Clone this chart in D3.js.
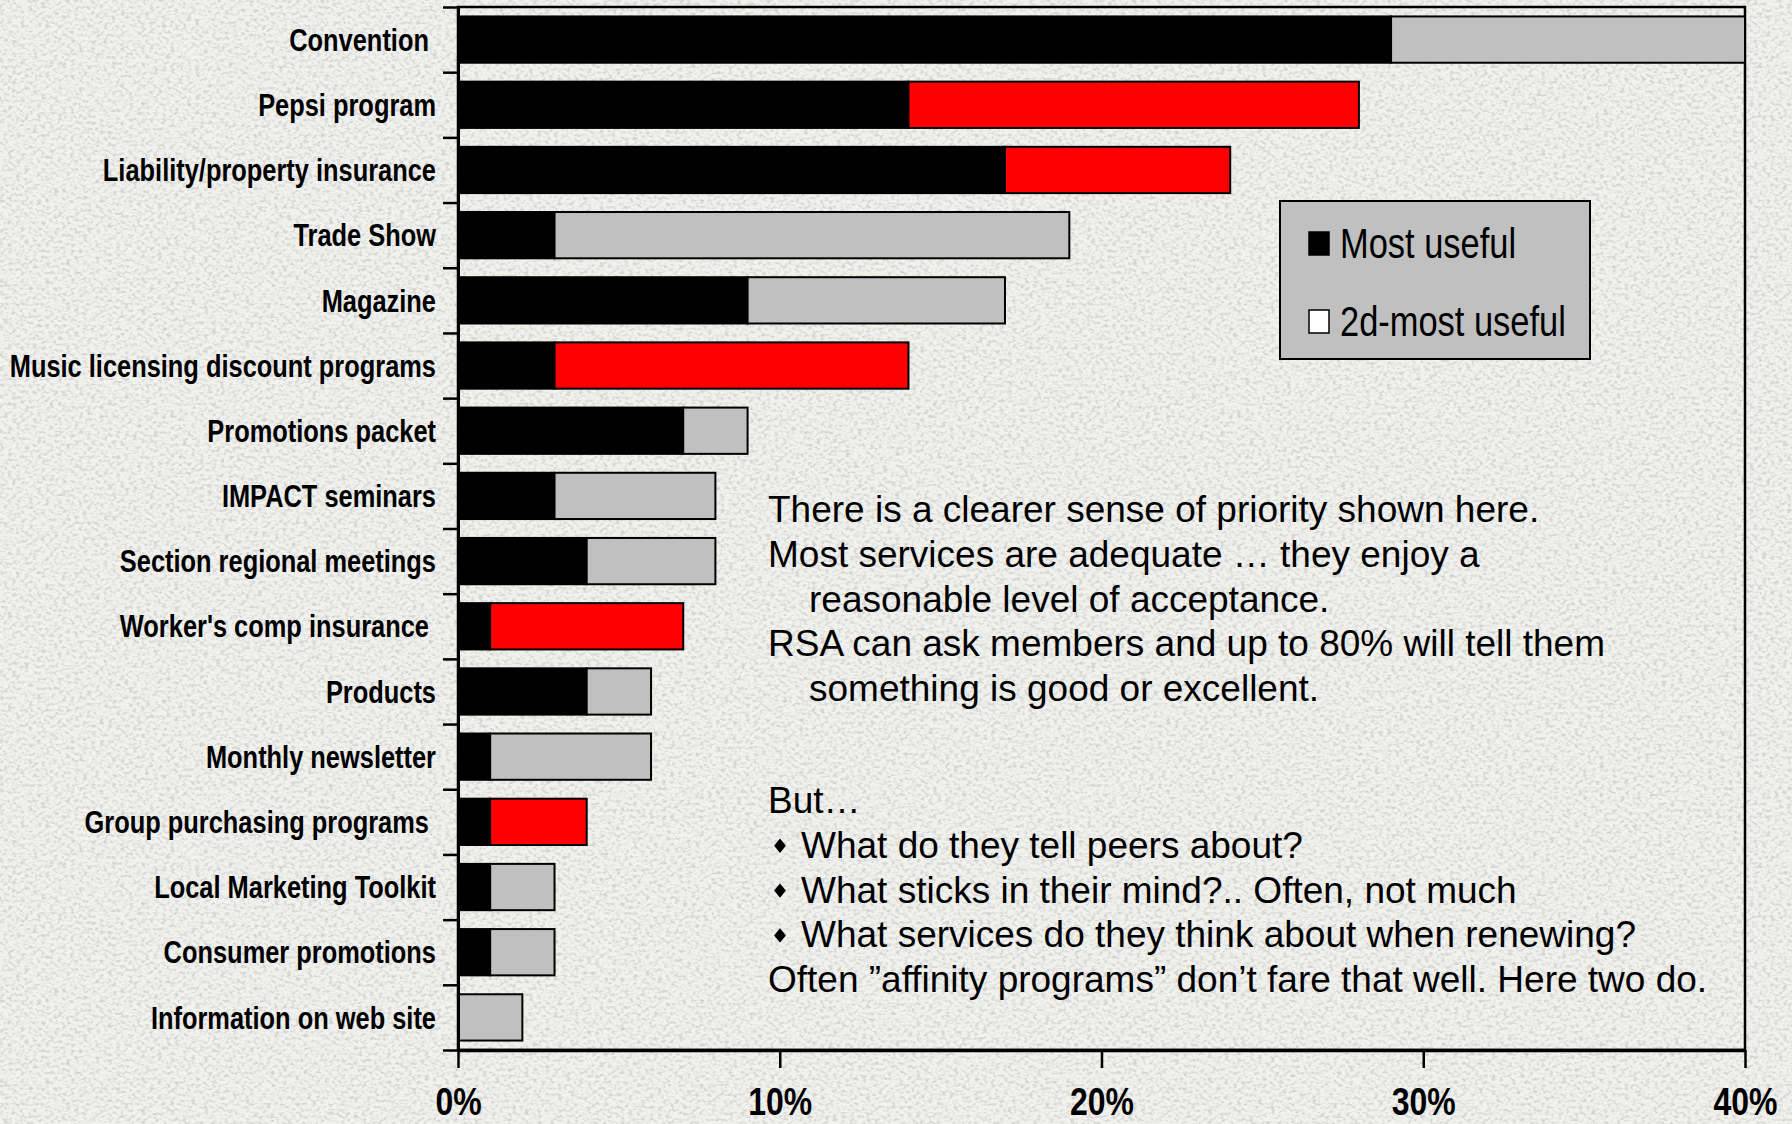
<!DOCTYPE html>
<html>
<head>
<meta charset="utf-8">
<script src="https://cdn.jsdelivr.net/npm/d3@7"></script>
<style>
  html, body { margin: 0; padding: 0; background: #ebebe8; }
  svg { display: block; }
  .cat { white-space: pre; }
</style>
</head>
<body>
<svg id="chart" width="1792" height="1124"></svg>
<script>
// Services rated most useful / second most useful (% of respondents)
const categories = [
  "Convention ",
  "Pepsi program",
  "Liability/property insurance",
  "Trade Show",
  "Magazine",
  "Music licensing discount programs",
  "Promotions packet",
  "IMPACT seminars",
  "Section regional meetings",
  "Worker's comp insurance ",
  "Products",
  "Monthly newsletter",
  "Group purchasing programs ",
  "Local Marketing Toolkit",
  "Consumer promotions",
  "Information on web site"
];
const mostUseful   = [29, 14, 17, 3, 9, 3, 7, 3, 4, 1, 4, 1, 1, 1, 1, 0];
const secondUseful = [11, 14, 7, 16, 8, 11, 2, 5, 4, 6, 2, 5, 3, 2, 2, 2];
// affinity programs get their second-most-useful share in red
const affinity     = [0, 1, 1, 0, 0, 1, 0, 0, 0, 1, 0, 0, 1, 0, 0, 0];

const xTicks = [0, 10, 20, 30, 40];
const legendLabels = ["Most useful", "2d-most useful"];

const noteLines = [
  { text: "There is a clearer sense of priority shown here.", indent: 0 },
  { text: "Most services are adequate … they enjoy a", indent: 0 },
  { text: "reasonable level of acceptance.", indent: 1 },
  { text: "RSA can ask members and up to 80% will tell them", indent: 0 },
  { text: "something is good or excellent.", indent: 1 }
];
const noteLines2 = [
  { text: "But…", bullet: false },
  { text: "What do they tell peers about?", bullet: true },
  { text: "What sticks in their mind?.. Often, not much", bullet: true },
  { text: "What services do they think about when renewing?", bullet: true },
  { text: "Often ”affinity programs” don’t fare that well. Here two do.", bullet: false }
];

const svg = d3.select("#chart");

// --- check whether a real narrow face exists; otherwise squeeze the regular one
function hasFont(name) {
  const t = svg.append("text").attr("font-size", 40).text("Music licensing 0123");
  t.attr("font-family", "'DejaVu Sans Mono'");
  const w0 = t.node().getComputedTextLength();
  t.attr("font-family", `'${name}', 'DejaVu Sans Mono'`);
  const w1 = t.node().getComputedTextLength();
  t.remove();
  return Math.abs(w0 - w1) > 0.5;
}
const narrowOK = hasFont("Liberation Sans Narrow");
const narrowFamily = narrowOK ? "'Liberation Sans Narrow', 'Arial Narrow', sans-serif"
                              : "'Liberation Sans', Arial, sans-serif";
const squeeze = narrowOK ? 1 : 0.82;

// --- granite-like slide background
const defs = svg.append("defs");
const grain = defs.append("filter").attr("id", "grain")
  .attr("x", 0).attr("y", 0).attr("width", "100%").attr("height", "100%");
grain.append("feTurbulence").attr("type", "fractalNoise")
  .attr("baseFrequency", "0.24 0.32").attr("numOctaves", 3).attr("seed", 7);
grain.append("feColorMatrix").attr("type", "matrix")
  .attr("values", "0 0 0 0 0.6  0 0 0 0 0.6  0 0 0 0 0.59  3.2 0 0 0 -1.45");

svg.append("rect").attr("width", 1792).attr("height", 1124).attr("fill", "#f1f1ee");
svg.append("rect").attr("width", 1792).attr("height", 1124)
  .attr("filter", "url(#grain)").attr("opacity", 0.8);

// --- plot geometry
const plotLeft = 458, plotRight = 1745, plotTop = 7, plotBottom = 1050;

const x = d3.scaleLinear().domain([0, 40]).range([plotLeft, plotRight]);
const y = d3.scaleBand().domain(categories).range([plotTop, plotBottom])
  .paddingInner(0.29).paddingOuter(0.145);
const yEdges = d3.scaleLinear().domain([0, categories.length]).range([plotTop, plotBottom]);

const rows = categories.map((c, i) => ({
  cat: c, m: mostUseful[i], s: secondUseful[i], hi: affinity[i] === 1
}));

// plot area frame (top and right edges show)
svg.append("rect")
  .attr("x", plotLeft).attr("y", plotTop)
  .attr("width", plotRight - plotLeft).attr("height", plotBottom - plotTop)
  .attr("fill", "none").attr("stroke", "#000").attr("stroke-width", 2.5);

// bars
const g = svg.append("g");
g.selectAll("rect.first").data(rows).join("rect")
  .attr("class", "first")
  .attr("x", x(0)).attr("y", d => y(d.cat))
  .attr("width", d => x(d.m) - x(0)).attr("height", y.bandwidth())
  .attr("fill", "#000").attr("stroke", "#000").attr("stroke-width", 2);
g.selectAll("rect.second").data(rows).join("rect")
  .attr("class", "second")
  .attr("x", d => x(d.m)).attr("y", d => y(d.cat))
  .attr("width", d => x(d.m + d.s) - x(d.m)).attr("height", y.bandwidth())
  .attr("fill", d => d.hi ? "#ff0000" : "#c0c0c0")
  .attr("stroke", "#000").attr("stroke-width", 2);

// category axis: tick marks on category boundaries
const yAxis = svg.append("g").attr("transform", `translate(${plotLeft},0)`)
  .call(d3.axisLeft(yEdges).ticks(categories.length).tickFormat("").tickSize(15).tickSizeOuter(0));
yAxis.select(".domain").attr("stroke-width", 3);
yAxis.selectAll(".tick line").attr("stroke-width", 2.5);

// category labels
svg.append("g").selectAll("text").data(rows).join("text")
  .attr("class", "cat")
  .attr("transform", d => `translate(436,${y(d.cat) + y.bandwidth() / 2}) scale(${squeeze},1)`)
  .attr("text-anchor", "end").attr("dy", "0.36em")
  .attr("font-family", narrowFamily).attr("font-weight", "bold")
  .attr("font-size", 31).attr("fill", "#000")
  .text(d => d.cat);

// value axis
const xAxis = svg.append("g").attr("transform", `translate(0,${plotBottom})`)
  .call(d3.axisBottom(x).tickValues(xTicks).tickFormat(d => d + "%")
    .tickSize(18).tickSizeOuter(0).tickPadding(19));
xAxis.select(".domain").attr("stroke-width", 3.5);
xAxis.selectAll(".tick line").attr("stroke-width", 2.5);
xAxis.selectAll(".tick text")
  .attr("font-family", narrowFamily).attr("font-weight", "bold")
  .attr("font-size", 39).attr("fill", "#000")
  .attr("transform", `scale(${squeeze},1)`);

// legend
const lg = svg.append("g");
lg.append("rect").attr("x", 1280).attr("y", 201).attr("width", 310).attr("height", 158)
  .attr("fill", "#c0c0c0").attr("stroke", "#000").attr("stroke-width", 2);
const legendRows = [
  { label: legendLabels[0], fill: "#000", cy: 243 },
  { label: legendLabels[1], fill: "#fff", cy: 321 }
];
lg.selectAll("rect.key").data(legendRows).join("rect")
  .attr("class", "key")
  .attr("x", 1309).attr("y", d => d.cy - 11).attr("width", 20).attr("height", 23)
  .attr("fill", d => d.fill).attr("stroke", "#000").attr("stroke-width", 1.5);
lg.selectAll("text").data(legendRows).join("text")
  .attr("transform", d => `translate(1340,${d.cy}) scale(${squeeze},1)`)
  .attr("dy", "0.36em")
  .attr("font-family", narrowFamily).attr("font-size", 42).attr("fill", "#000")
  .text(d => d.label);

// commentary
const noteFont = "'Liberation Sans', Arial, sans-serif";
const notes = svg.append("g").attr("font-family", noteFont).attr("font-size", 37).attr("fill", "#000");
notes.selectAll("text.n1").data(noteLines).join("text")
  .attr("class", "n1")
  .attr("x", d => d.indent ? 809 : 768)
  .attr("y", (d, i) => 522 + i * 44.8)
  .text(d => d.text);
notes.selectAll("text.n2").data(noteLines2).join("text")
  .attr("class", "n2")
  .attr("x", d => d.bullet ? 801 : 768)
  .attr("y", (d, i) => 813 + i * 44.8)
  .text(d => d.text);
notes.selectAll("path.bullet").data(noteLines2.map((d, i) => ({ ...d, i })).filter(d => d.bullet))
  .join("path")
  .attr("class", "bullet")
  .attr("transform", d => `translate(780,${813 + d.i * 44.8 - 12}) scale(0.9,1.1)`)
  .attr("d", d3.symbol(d3.symbolDiamond2, 110)())
  .attr("fill", "#000");
</script>
</body>
</html>
